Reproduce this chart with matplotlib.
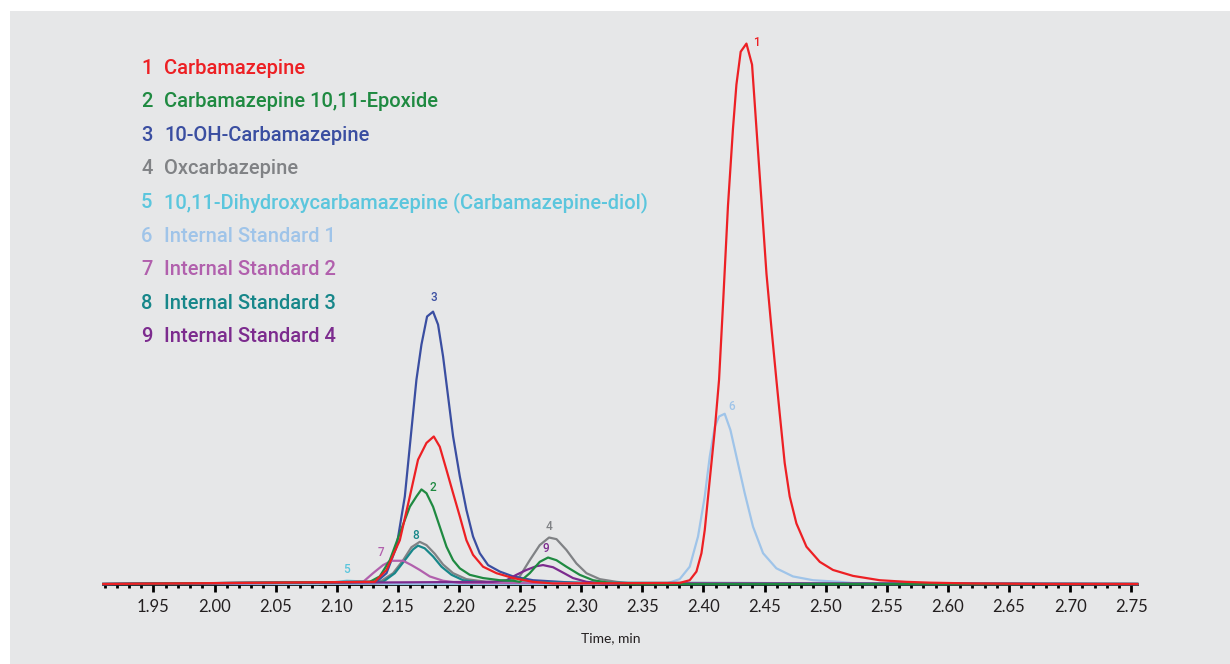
import numpy as np
import matplotlib.pyplot as plt
from matplotlib.patches import Rectangle
from matplotlib.ticker import MultipleLocator

# retention time window (min)
t_min, t_max = 1.909, 2.755

names = ['Carbamazepine', 'Carbamazepine 10,11-Epoxide', '10-OH-Carbamazepine',
         'Oxcarbazepine', '10,11-Dihydroxycarbamazepine (Carbamazepine-diol)',
         'Internal Standard 1', 'Internal Standard 2', 'Internal Standard 3',
         'Internal Standard 4']
colors = ['#ed2024', '#1f8a41', '#3a4ea1', '#808285', '#5bc6dd',
          '#9fc4e9', '#b160ad', '#17878a', '#7c2b8e']

# 1 Carbamazepine (relative intensity, %)
t1 = [2.1311, 2.1407, 2.1516, 2.1598, 2.1665, 2.1734, 2.1794, 2.1843, 2.1898, 2.1952,
      2.2007, 2.2061, 2.2115, 2.2197, 2.2307, 2.2443, 2.2606, 2.2770,
      2.3806, 2.3888, 2.3943, 2.3984, 2.4011, 2.4052, 2.4093, 2.4128, 2.4161, 2.4201,
      2.4242, 2.4270, 2.4305, 2.4352, 2.4398, 2.4434, 2.4475, 2.4516, 2.4556, 2.4597,
      2.4624, 2.4665, 2.4706, 2.4761, 2.4843, 2.4952, 2.5060, 2.5224, 2.5442, 2.5660,
      2.5850, 2.6200, 2.6800]
i1 = [0.4, 2.6, 8.1, 16.2, 23.0, 26.1, 27.3, 25.4, 21.1, 16.8,
      12.5, 8.1, 5.4, 3.2, 2.0, 1.1, 0.4, 0.1,
      0.2, 0.7, 2.3, 5.7, 10.0, 19.3, 28.5, 37.8, 52.0, 70.0,
      84.3, 92.4, 98.5, 100.0, 96.1, 84.3, 70.9, 57.4, 47.5, 37.8,
      31.6, 22.4, 16.2, 11.2, 6.9, 4.1, 2.6, 1.5, 0.7, 0.4,
      0.25, 0.1, 0.0]

# 2 Carbamazepine 10,11-Epoxide
t2 = [2.1270, 2.1352, 2.1434, 2.1516, 2.1598, 2.1652, 2.1693, 2.1734, 2.1788, 2.1843,
      2.1898, 2.1952, 2.2007, 2.2088, 2.2197, 2.2334, 2.2443, 2.2497, 2.2579, 2.2661,
      2.2729, 2.2798, 2.2879, 2.2988, 2.3097, 2.3234, 2.3400]
i2 = [0.4, 1.4, 4.4, 9.4, 14.3, 16.2, 17.5, 16.8, 14.3, 10.6,
      6.9, 4.4, 2.9, 1.7, 1.1, 0.7, 0.6, 0.4, 2.0, 4.1,
      4.9, 4.4, 3.2, 1.7, 0.7, 0.2, 0.0]

# 3 10-OH-Carbamazepine
t3 = [2.1325, 2.1407, 2.1489, 2.1557, 2.1611, 2.1652, 2.1693, 2.1739, 2.1788, 2.1829,
      2.1870, 2.1911, 2.1952, 2.2007, 2.2061, 2.2115, 2.2170, 2.2238, 2.2334, 2.2443,
      2.2606, 2.2825, 2.3043]
i3 = [0.4, 2.0, 6.9, 16.2, 28.5, 37.8, 44.3, 49.5, 50.4, 48.0,
      42.1, 34.7, 27.3, 19.9, 13.7, 8.8, 5.7, 3.5, 2.3, 1.4,
      0.7, 0.4, 0.1]

# 4 Oxcarbazepine
t4 = [2.1352, 2.1461, 2.1543, 2.1611, 2.1679, 2.1734, 2.1802, 2.1870, 2.1952, 2.2061,
      2.2225, 2.2389, 2.2497, 2.2579, 2.2661, 2.2737, 2.2798, 2.2879, 2.2961, 2.3043,
      2.3152, 2.3288, 2.3450]
i4 = [0.4, 2.0, 4.4, 6.8, 7.8, 7.2, 5.6, 3.6, 2.0, 0.9,
      0.4, 0.4, 1.4, 4.4, 7.2, 8.6, 8.3, 6.3, 3.8, 2.0,
      0.9, 0.4, 0.0]

# 5 Carbamazepine-diol
t5 = [2.0850, 2.0968, 2.1082, 2.1188, 2.1310, 2.1400]
i5 = [0.0, 0.3, 0.6, 0.5, 0.2, 0.0]

# 6 Internal Standard 1
t6 = [2.3700, 2.3806, 2.3888, 2.3956, 2.4011, 2.4052, 2.4093, 2.4128, 2.4174, 2.4221,
      2.4270, 2.4338, 2.4406, 2.4488, 2.4597, 2.4733, 2.4897, 2.5115, 2.5300]
i6 = [0.1, 0.9, 3.2, 8.8, 16.2, 23.6, 29.1, 31.0, 31.5, 28.5,
      23.6, 16.8, 10.6, 5.7, 2.9, 1.4, 0.7, 0.4, 0.0]

# 7 Internal Standard 2
t7 = [2.1216, 2.1297, 2.1379, 2.1448, 2.1543, 2.1611, 2.1679, 2.1761, 2.1870, 2.2007]
i7 = [0.4, 2.0, 3.5, 4.3, 4.3, 3.5, 2.6, 1.4, 0.6, 0.2]

# 8 Internal Standard 3
t8 = [2.1379, 2.1475, 2.1557, 2.1624, 2.1665, 2.1720, 2.1788, 2.1857, 2.1939, 2.2034,
      2.2170]
i8 = [0.4, 2.0, 4.4, 6.4, 7.1, 6.6, 5.1, 3.2, 1.7, 0.7,
      0.3]

# 9 Internal Standard 4
t9 = [2.2279, 2.2389, 2.2470, 2.2552, 2.2634, 2.2688, 2.2770, 2.2852, 2.2933, 2.3043,
      2.3179]
i9 = [0.4, 0.7, 1.7, 2.6, 3.3, 3.5, 3.1, 2.1, 1.1, 0.4,
      0.1]

# peak label positions (time, intensity)
lab_t = [2.4436, 2.1786, 2.1794, 2.2735, 2.1082, 2.4232, 2.1361, 2.1647, 2.2710]
lab_i = [100.2, 17.8, 53.0, 10.7, 2.6, 32.8, 5.9, 8.9, 6.5]

series = [(t1, i1), (t2, i2), (t3, i3), (t4, i4), (t5, i5),
          (t6, i6), (t7, i7), (t8, i8), (t9, i9)]

fnt = 'Roboto'

W, H = 1230, 664
fig = plt.figure(figsize=(W / 100, H / 100), dpi=100, facecolor='white')
fig.patches.append(Rectangle((10 / W, 0), 1 - 10 / W, 1 - 11 / H,
                             transform=fig.transFigure, facecolor='#e6e7e8',
                             edgecolor='none', zorder=-10))

ax = fig.add_axes([103.3 / W, 80 / H, 1034 / W, 540.4 / H])
ax.set_zorder(1)
ax.set_facecolor('none')
ax.set_xlim(t_min, t_max)
ax.set_ylim(0, 100)

draw_order = [5, 4, 3, 6, 8, 7, 9, 2, 1]
for n, k in enumerate(draw_order):
    t, y = series[k - 1]
    tt = np.r_[t_min, t, t_max]
    yy = np.r_[0, y, 0]
    ax.plot(tt, yy, color=colors[k - 1], lw=1.6, clip_on=False,
            solid_joinstyle='round', zorder=3 + n * 0.1)

for k in range(9):
    ax.text(lab_t[k], lab_i[k], str(k + 1), color=colors[k], fontsize=8.5,
            family=fnt, weight='medium', ha='center', va='center')

for sp in ['left', 'right', 'top']:
    ax.spines[sp].set_visible(False)
ax.spines['bottom'].set_linewidth(2)
ax.spines['bottom'].set_zorder(2)
ax.set_yticks([])
ticks = np.arange(1.95, 2.751, 0.05)
ax.set_xticks(ticks)
ax.set_xticklabels([f'{v:.2f}' for v in ticks])
ax.xaxis.set_minor_locator(MultipleLocator(0.01))
ax.tick_params(axis='x', which='major', length=6, width=2, pad=5,
               labelsize=12, labelcolor='#231f20')
ax.tick_params(axis='x', which='minor', length=3, width=2)
for lab in ax.get_xticklabels():
    lab.set_family('Lato')

ax.set_xlabel('Time, min', fontsize=10, family='Lato', color='#231f20', va='center')
ax.xaxis.set_label_coords((611 - 103.3) / 1034, (584 - 638.6) / 540.4)

# legend block
row0, step = 68.3, 33.55
for k in range(9):
    y = 1 - (row0 + k * step) / H
    fig.text(141 / W, y, str(k + 1), color=colors[k], fontsize=14.5,
             family=fnt, weight='medium', ha='left', va='center')
    fig.text(164 / W, y, names[k], color=colors[k], fontsize=14.5,
             family=fnt, weight='medium', ha='left', va='center')

fig.savefig('out.png', dpi=100, facecolor='white')
